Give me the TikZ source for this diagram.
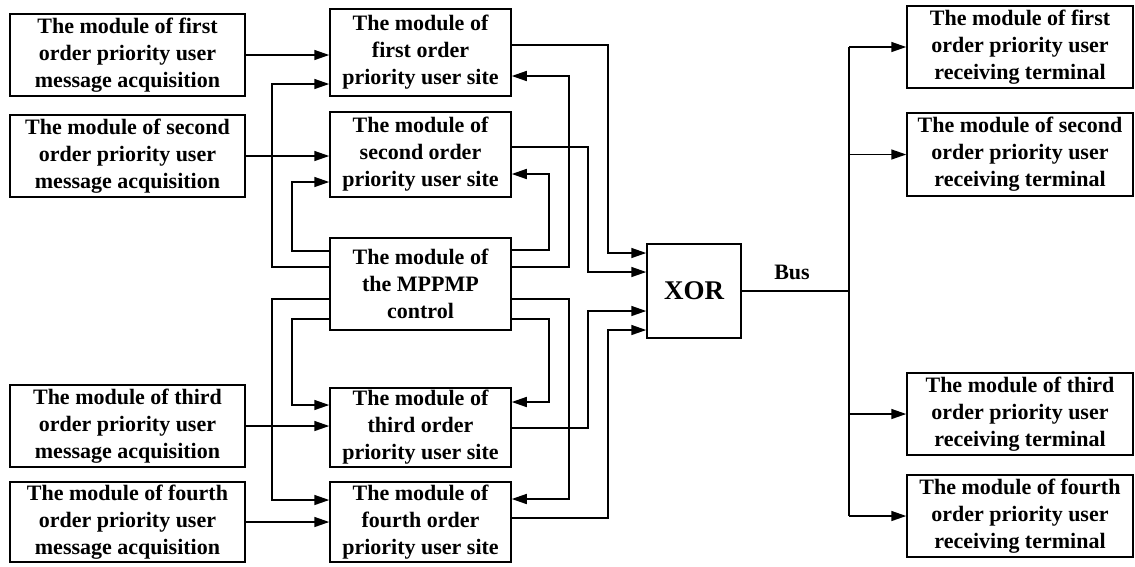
\documentclass[tikz,border=0pt]{standalone}
\usepackage{fontspec}
\setmainfont{Liberation Serif}
\usetikzlibrary{positioning, calc, arrows.meta}

\begin{document}
\begin{tikzpicture}[x=1pt, y=-1pt, line width=1.5pt,
    modBox/.style={draw, line width=1.5pt, align=center, inner sep=0pt,
      font=\fontsize{22}{27}\selectfont\bfseries},
    link/.style={-{Triangle[length=15pt, width=10pt]}}]
  \useasboundingbox (0,0) rectangle (1135,566);

  \node[modBox, minimum width=235pt, minimum height=82pt] (acqFirst) at (127.5,55) {The module of first\\order priority user\\message acquisition};
  \node[modBox, minimum width=235pt, minimum height=82pt] (acqSecond) at (127.5,156) {The module of second\\order priority user\\message acquisition};
  \node[modBox, minimum width=235pt, minimum height=82pt] (acqThird) at (127.5,426) {The module of third\\order priority user\\message acquisition};
  \node[modBox, minimum width=235pt, minimum height=80pt] (acqFourth) at (127.5,522) {The module of fourth\\order priority user\\message acquisition};

  \node[modBox, minimum width=181pt, minimum height=87pt] (siteFirst) at (420.5,52.5) {The module of\\first order\\priority user site};
  \node[modBox, minimum width=181pt, minimum height=85pt] (siteSecond) at (420.5,154.5) {The module of\\second order\\priority user site};
  \node[modBox, minimum width=181pt, minimum height=92pt] (ctrlMain) at (420.5,284) {The module of\\the MPPMP\\control};
  \node[modBox, minimum width=181pt, minimum height=79pt] (siteThird) at (420.5,427.5) {The module of\\third order\\priority user site};
  \node[modBox, minimum width=181pt, minimum height=80pt] (siteFourth) at (420.5,522) {The module of\\fourth order\\priority user site};

  \node[modBox, minimum width=94pt, minimum height=94pt,
    font=\fontsize{27}{30}\selectfont\bfseries] (xorGate) at (694,291) {XOR};
  \node[font=\fontsize{22}{27}\selectfont\bfseries] (busLabel) at (792,272) {Bus};

  \node[modBox, minimum width=226pt, minimum height=82pt] (recvFirst) at (1020,47) {The module of first\\order priority user\\receiving terminal};
  \node[modBox, minimum width=226pt, minimum height=83pt] (recvSecond) at (1020,154.5) {The module of second\\order priority user\\receiving terminal};
  \node[modBox, minimum width=226pt, minimum height=82pt] (recvThird) at (1020,414) {The module of third\\order priority user\\receiving terminal};
  \node[modBox, minimum width=226pt, minimum height=82pt] (recvFourth) at (1020,516) {The module of fourth\\order priority user\\receiving terminal};

  \foreach \n in {First,Second,Third,Fourth}{
    \draw[link] (acq\n.east) -- (acq\n.east -| site\n.west);
  }

  \draw[link] ($(ctrlMain.west)+(0,-17)$) -| (272,84) -- (siteFirst.west |- 0,84);
  \draw[link] ($(ctrlMain.west)+(0,-33)$) -| (292,182) -- (siteSecond.west |- 0,182);
  \draw[link] ($(ctrlMain.west)+(0,35)$) -| (292,405) -- (siteThird.west |- 0,405);
  \draw[link] ($(ctrlMain.west)+(0,15)$) -| (272,500) -- (siteFourth.west |- 0,500);
  \draw[link] ($(ctrlMain.east)+(0,-17)$) -| (569,76) -- (siteFirst.east |- 0,76);
  \draw[link] ($(ctrlMain.east)+(0,-34)$) -| (549,174) -- (siteSecond.east |- 0,174);
  \draw[link] ($(ctrlMain.east)+(0,35)$) -| (549,402) -- (siteThird.east |- 0,402);
  \draw[link] ($(ctrlMain.east)+(0,15)$) -| (569,499) -- (siteFourth.east |- 0,499);

  \draw[link] (siteFirst.east |- 0,45) -| (608,253) -- (xorGate.west |- 0,253);
  \draw[link] (siteSecond.east |- 0,147) -| (588,272) -- (xorGate.west |- 0,272);
  \draw[link] (siteThird.east |- 0,428) -| (588,311) -- (xorGate.west |- 0,311);
  \draw[link] (siteFourth.east |- 0,518) -| (608,330) -- (xorGate.west |- 0,330);

  \coordinate (busJoint) at (849,291);
  \draw (xorGate.east) -- (busJoint);
  \draw (busJoint |- recvFirst.west) -- (busJoint |- recvFourth.west);
  \foreach \n in {First,Second,Third,Fourth}{
    \draw[link] (busJoint |- recv\n.west) -- (recv\n.west);
  }
\end{tikzpicture}
\end{document}
